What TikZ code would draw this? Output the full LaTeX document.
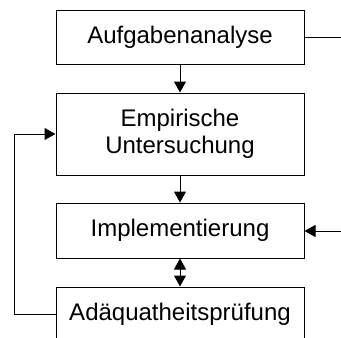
\documentclass[tikz,border=0pt]{standalone}
\usepackage{fontspec}
\setmainfont{Liberation Sans}
\usetikzlibrary{arrows.meta}
\begin{document}
\begin{tikzpicture}[x=1pt,y=-1pt,
  stage/.style={draw,line width=1pt,minimum width=248pt,inner sep=0pt,
    font=\fontsize{24}{27}\selectfont,align=center},
  head/.style={Triangle[length=11pt,width=12pt]},
  flow/.style={line width=1pt,-{Triangle[length=11pt,width=12pt]}},
  both/.style={line width=1pt,{Triangle[length=11pt,width=12pt]}-{Triangle[length=11pt,width=12pt]}}]
\useasboundingbox (0,0) rectangle (341,338);
\clip (0,0) rectangle (341,338);
\node[stage,minimum height=54pt] (ana) at (180,37) {Aufgabenanalyse};
\node[stage,minimum height=82pt] (emp) at (180,134) {Empirische\\Untersuchung};
\node[stage,minimum height=55pt] (imp) at (180,230.5) {Implementierung};
\node[stage,minimum height=54pt] (adq) at (180,314) {Adäquatheitsprüfung};
\coordinate (outR) at (342,37);
\coordinate (inR) at (342,231);
\coordinate (loopL) at (14,0);
\draw[flow] (ana) -- (emp);
\draw[flow] (emp) -- (imp);
\draw[both] (imp) -- (adq);
\draw[line width=1pt] (ana.east) -- (outR);
\draw[flow] (inR) -- (imp.east |- inR);
\draw[flow] (adq.west) -- (loopL |- adq.west) -- (loopL |- emp.west) -- (emp.west);
\end{tikzpicture}
\end{document}
